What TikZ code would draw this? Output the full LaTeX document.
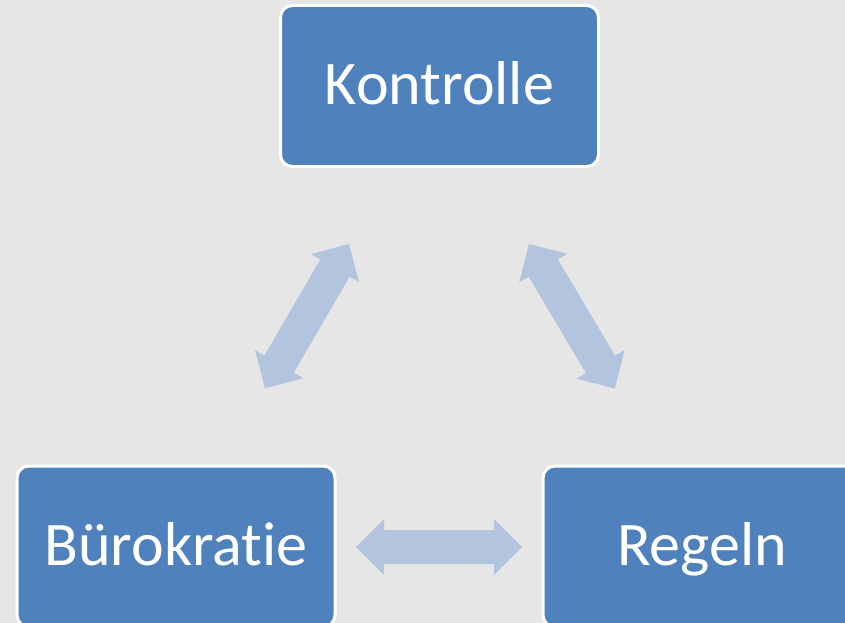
\documentclass[tikz,border=0pt]{standalone}
\usepackage{fontspec}
\setmainfont[Ligatures=NoCommon]{Carlito}
\definecolor{bg}{RGB}{230,230,230}
\definecolor{boxblue}{RGB}{79,129,189}
\definecolor{arrowblue}{RGB}{179,196,223}
\tikzset{
  boxnode/.style={draw=white, line width=3pt, fill=boxblue, rounded corners=12pt,
    text=white, font=\fontsize{62}{70}\selectfont, inner sep=0pt,
    text height=48pt, text depth=10pt,
    minimum width=318pt, minimum height=161pt},
  arrowfill/.style={fill=arrowblue}
}
\newcommand\BArrow[3]{%
  \begin{scope}[shift={(#1)}, rotate=#2]
    \fill[arrowfill] (0,0) -- (28,28) -- (28,17) -- (#3-28,17) -- (#3-28,28) -- (#3,0)
      -- (#3-28,-28) -- (#3-28,-17) -- (28,-17) -- (28,-28) -- cycle;
  \end{scope}}
\begin{document}
\begin{tikzpicture}[x=1pt, y=-1pt]
\useasboundingbox (0,0) rectangle (845,623);
\fill[bg] (0,0) rectangle (845,623);
\node[boxnode] (kontrolle) at (439.5,86) {Kontrolle};
\node[boxnode] (buero) at (176,546.5) {Bürokratie};
\node[boxnode] (regeln) at (702,546.5) {Regeln};
\coordinate (lt) at (349,244);
\coordinate (rt) at (529,244);
\coordinate (hl) at (356,547);
\BArrow{lt}{-120.2}{167}
\BArrow{rt}{-59.3}{168}
\BArrow{hl}{0}{166}
\end{tikzpicture}
\end{document}
